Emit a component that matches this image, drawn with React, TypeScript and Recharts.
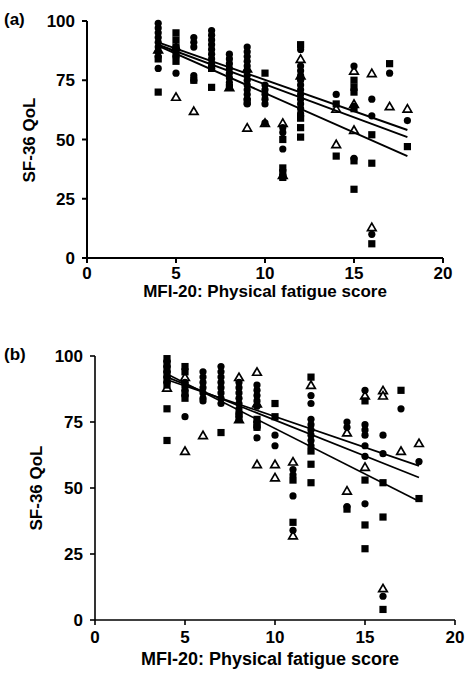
import React from "react";
import { ScatterChart, Scatter, XAxis, YAxis } from "recharts";

type Row = [number, number];

const xTicks = [0, 5, 10, 15, 20];
const yTicks = [0, 25, 50, 75, 100];
const xTitle = "MFI-20: Physical fatigue score";
const yTitle = "SF-36 QoL";

// panel (a)
const aCircles: Row[] = [
  [4, 99], [4, 97], [4, 95], [4, 93], [4, 91], [4, 89], [4, 87], [4, 85], [4, 80],
  [5, 89], [5, 85], [5, 78],
  [6, 93], [6, 91], [6, 89], [6, 77], [6, 75],
  [7, 96], [7, 94], [7, 92], [7, 90], [7, 88], [7, 86], [7, 84], [7, 82], [7, 80],
  [8, 86], [8, 84], [8, 82], [8, 80], [8, 78], [8, 76], [8, 74],
  [9, 89], [9, 87], [9, 85], [9, 83], [9, 81], [9, 79], [9, 77], [9, 75], [9, 73], [9, 71], [9, 69], [9, 67], [9, 65],
  [10, 73], [10, 71], [10, 69], [10, 67], [10, 65], [10, 57],
  [11, 55], [11, 53], [11, 46], [11, 34],
  [12, 88], [12, 81], [12, 79], [12, 77], [12, 75], [12, 73], [12, 71], [12, 69], [12, 67], [12, 65], [12, 63], [12, 61], [12, 60],
  [14, 69],
  [15, 81], [15, 64], [15, 42],
  [16, 67], [16, 60], [16, 10],
  [17, 78],
  [18, 58],
];
const aSquares: Row[] = [
  [4, 84], [4, 70],
  [5, 95], [5, 92], [5, 89], [5, 86], [5, 83],
  [6, 75],
  [7, 80], [7, 72],
  [8, 72],
  [9, 66],
  [10, 78],
  [11, 50], [11, 38], [11, 36], [11, 34],
  [12, 90], [12, 59], [12, 55], [12, 51],
  [14, 65], [14, 43],
  [15, 75], [15, 72], [15, 70], [15, 63], [15, 41], [15, 29],
  [16, 52], [16, 40], [16, 6],
  [17, 82],
  [18, 47],
];
const aTriangles: Row[] = [
  [4, 88], [5, 89], [5, 68], [6, 62], [8, 72], [9, 80], [9, 55], [10, 57],
  [11, 57], [11, 35], [12, 84], [12, 77], [14, 63], [14, 48],
  [15, 79], [15, 65], [15, 54], [16, 78], [16, 13], [17, 64], [18, 63],
];
const aLines: Row[][] = [
  [[4, 91], [18, 54]],
  [[4, 90], [18, 51]],
  [[4, 89.5], [18, 43]],
];

// panel (b)
const bCircles: Row[] = [
  [4, 98], [4, 96], [4, 94], [4, 92], [4, 90],
  [5, 90], [5, 87], [5, 85], [5, 77],
  [6, 94], [6, 92], [6, 90], [6, 88], [6, 86], [6, 84], [6, 83],
  [7, 96], [7, 94], [7, 92], [7, 90], [7, 88], [7, 86], [7, 84], [7, 82],
  [8, 90], [8, 88], [8, 86], [8, 84], [8, 82], [8, 80], [8, 78],
  [9, 89], [9, 87], [9, 85], [9, 83], [9, 81], [9, 75], [9, 73], [9, 69],
  [10, 70], [10, 66],
  [11, 57], [11, 55], [11, 47], [11, 34],
  [12, 85], [12, 82], [12, 76], [12, 74], [12, 72], [12, 70], [12, 68], [12, 66],
  [14, 75], [14, 73], [14, 43],
  [15, 87], [15, 74], [15, 72], [15, 70], [15, 66], [15, 62], [15, 44],
  [16, 70], [16, 63], [16, 9],
  [17, 80],
  [18, 60],
];
const bSquares: Row[] = [
  [4, 99], [4, 97], [4, 95], [4, 93], [4, 91], [4, 89], [4, 80], [4, 68],
  [5, 96], [5, 94], [5, 89], [5, 86], [5, 84],
  [7, 71],
  [8, 78], [8, 76],
  [9, 76], [9, 74], [9, 73],
  [10, 82], [10, 77],
  [11, 53], [11, 37],
  [12, 92], [12, 64], [12, 59], [12, 52],
  [14, 42],
  [15, 83], [15, 53], [15, 36], [15, 27],
  [16, 52], [16, 39], [16, 4],
  [17, 87],
  [18, 46],
];
const bTriangles: Row[] = [
  [4, 88], [5, 92], [5, 64], [6, 70], [8, 92], [8, 76], [9, 94], [9, 82], [9, 59],
  [10, 59], [10, 54], [11, 60], [11, 32], [12, 89], [14, 71], [14, 49],
  [15, 85], [15, 58], [16, 87], [16, 85], [16, 12], [17, 64], [18, 67],
];
const bLines: Row[][] = [
  [[4, 91], [18, 58.4]],
  [[4, 92], [18, 54]],
  [[4, 93.2], [18, 45]],
];

const FONT = "'Liberation Sans', Arial, sans-serif";
const pts = (rows: Row[]) => rows.map(([x, y]) => ({ x, y }));

const Circle = (p: any) => <circle cx={p.cx} cy={p.cy} r={3.6} fill="#000" />;
const Square = (p: any) => (
  <rect x={p.cx - 3.6} y={p.cy - 3.6} width={7.2} height={7.2} fill="#000" />
);
const Triangle = (p: any) => (
  <polygon
    points={`${p.cx},${p.cy - 4} ${p.cx + 4.3},${p.cy + 3.4} ${p.cx - 4.3},${p.cy + 3.4}`}
    fill="#fff"
    stroke="#000"
    strokeWidth={1.7}
  />
);
const NoDot = () => <g />;

const textStyle: React.CSSProperties = {
  position: "absolute",
  fontFamily: FONT,
  fontWeight: 700,
  fontSize: 17,
  color: "#000",
  whiteSpace: "nowrap",
};

interface PanelProps {
  tag: string;
  top: number;
  height: number;
  left: number;
  right: number;
  plotTop: number;
  plotBottom: number;
  axisW: number;
  lineW: number;
  labelGap: number;
  titleX: number;
  titleY: number;
  titleSize: number;
  yTitleX: number;
  circles: Row[];
  squares: Row[];
  triangles: Row[];
  lines: Row[][];
}

function Panel(p: PanelProps) {
  const width = 468;
  const tick = { fill: "#000", fontSize: 17, fontWeight: 700, fontFamily: FONT };
  const axisLine = { stroke: "#000", strokeWidth: p.axisW };
  return (
    <div style={{ position: "absolute", left: 0, top: p.top, width, height: p.height }}>
      <ScatterChart
        width={width}
        height={p.height}
        margin={{
          left: p.left - 60,
          right: width - p.right,
          top: p.plotTop - p.top,
          bottom: p.height - (p.plotBottom - p.top) - 30,
        }}
      >
        <XAxis
          type="number"
          dataKey="x"
          domain={[0, 20]}
          ticks={xTicks}
          height={30}
          tick={tick}
          tickSize={5}
          tickMargin={p.labelGap}
          axisLine={axisLine}
          tickLine={axisLine}
          interval={0}
        />
        <YAxis
          type="number"
          dataKey="y"
          domain={[0, 100]}
          ticks={yTicks}
          width={60}
          tick={tick}
          tickSize={5}
          tickMargin={7}
          axisLine={axisLine}
          tickLine={axisLine}
          interval={0}
        />
        <Scatter data={pts(p.triangles)} shape={Triangle} isAnimationActive={false} />
        <Scatter data={pts(p.squares)} shape={Square} isAnimationActive={false} />
        <Scatter data={pts(p.circles)} shape={Circle} isAnimationActive={false} />
        {p.lines.map((l, i) => (
          <Scatter
            key={i}
            data={pts(l)}
            line={{ stroke: "#000", strokeWidth: p.lineW }}
            shape={NoDot}
            isAnimationActive={false}
          />
        ))}
      </ScatterChart>
      <div style={{ ...textStyle, left: 4, top: p.plotTop - p.top - 11 }}>{p.tag}</div>
      <div
        style={{
          ...textStyle,
          fontSize: p.titleSize,
          left: p.titleX,
          top: p.titleY - p.top,
          transform: "translate(-50%, -50%)",
        }}
      >
        {xTitle}
      </div>
      <div
        style={{
          ...textStyle,
          left: p.yTitleX,
          top: (p.plotTop + p.plotBottom) / 2 - p.top,
          transform: "translate(-50%, -50%) rotate(-90deg)",
        }}
      >
        {yTitle}
      </div>
    </div>
  );
}

export default function App() {
  return (
    <div
      style={{
        position: "fixed",
        left: 0,
        top: 0,
        width: 468,
        height: 677,
        background: "#fff",
        overflow: "hidden",
      }}
    >
      <Panel
        tag="(a)"
        top={0}
        height={320}
        left={87}
        right={443}
        plotTop={21}
        plotBottom={258}
        axisW={2}
        lineW={2}
        labelGap={4}
        titleX={265}
        titleY={292}
        titleSize={17}
        yTitleX={30}
        circles={aCircles}
        squares={aSquares}
        triangles={aTriangles}
        lines={aLines}
      />
      <Panel
        tag="(b)"
        top={330}
        height={347}
        left={95}
        right={455}
        plotTop={356}
        plotBottom={620}
        axisW={1.6}
        lineW={1.7}
        labelGap={6}
        titleX={270}
        titleY={659}
        titleSize={18}
        yTitleX={37}
        circles={bCircles}
        squares={bSquares}
        triangles={bTriangles}
        lines={bLines}
      />
    </div>
  );
}
